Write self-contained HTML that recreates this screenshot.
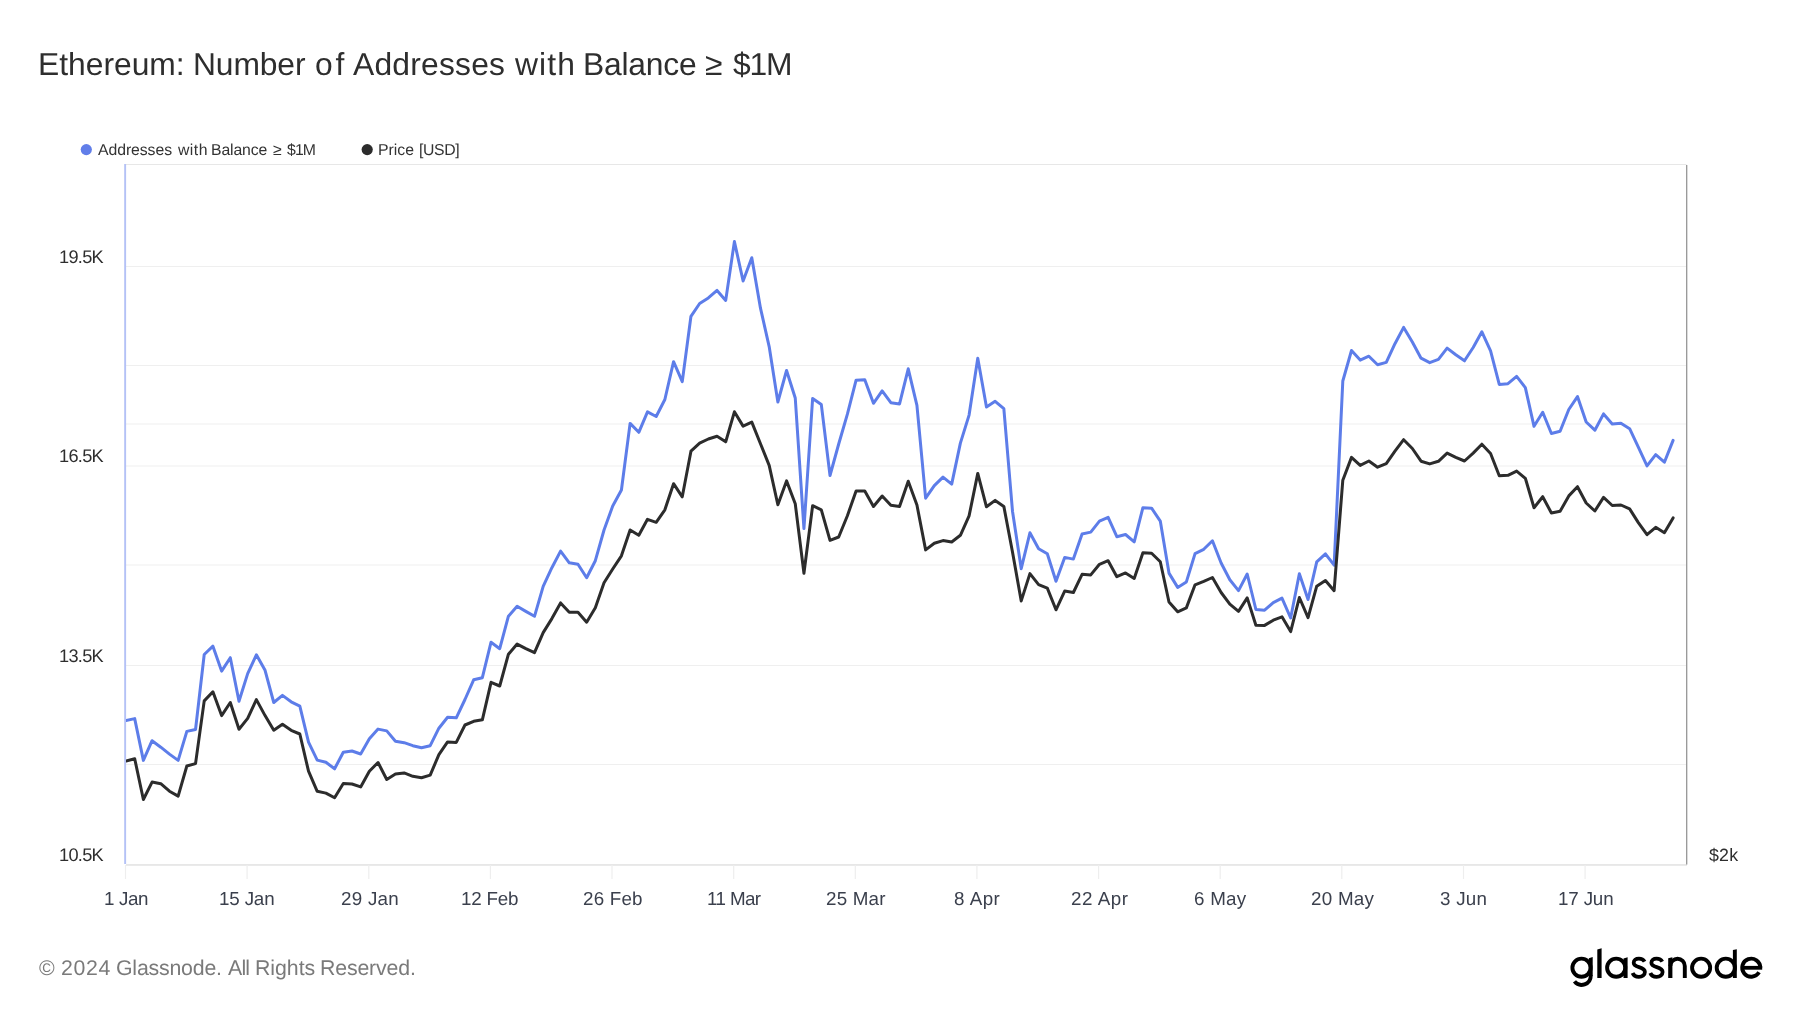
<!DOCTYPE html>
<html><head><meta charset="utf-8"><style>
html,body{margin:0;padding:0;background:#fff;}
body{width:1800px;height:1013px;position:relative;overflow:hidden;font-family:"Liberation Sans",sans-serif;}
.t{position:absolute;white-space:nowrap;line-height:1;will-change:transform;text-rendering:geometricPrecision;}
</style></head><body>
<svg width="1800" height="1013" viewBox="0 0 1800 1013" style="position:absolute;left:0;top:0">
<rect x="125.5" y="164" width="1561" height="1" fill="#e7e7e7"/>
<rect x="126" y="266.0" width="1560" height="1" fill="#efefef"/>
<rect x="126" y="365.0" width="1560" height="1" fill="#efefef"/>
<rect x="126" y="423.5" width="1560" height="1" fill="#efefef"/>
<rect x="126" y="465.5" width="1560" height="1" fill="#efefef"/>
<rect x="126" y="564.5" width="1560" height="1" fill="#efefef"/>
<rect x="126" y="665.0" width="1560" height="1" fill="#efefef"/>
<rect x="126" y="764.0" width="1560" height="1" fill="#efefef"/>
<rect x="126" y="864.35" width="1561" height="1.2" fill="#dadada"/>
<rect x="124.9" y="865" width="1.2" height="14" fill="#eeeeee"/>
<rect x="246.5" y="865" width="1.2" height="14" fill="#eeeeee"/>
<rect x="368.2" y="865" width="1.2" height="14" fill="#eeeeee"/>
<rect x="489.8" y="865" width="1.2" height="14" fill="#eeeeee"/>
<rect x="611.4" y="865" width="1.2" height="14" fill="#eeeeee"/>
<rect x="733.1" y="865" width="1.2" height="14" fill="#eeeeee"/>
<rect x="854.7" y="865" width="1.2" height="14" fill="#eeeeee"/>
<rect x="976.3" y="865" width="1.2" height="14" fill="#eeeeee"/>
<rect x="1098.0" y="865" width="1.2" height="14" fill="#eeeeee"/>
<rect x="1219.6" y="865" width="1.2" height="14" fill="#eeeeee"/>
<rect x="1341.2" y="865" width="1.2" height="14" fill="#eeeeee"/>
<rect x="1462.9" y="865" width="1.2" height="14" fill="#eeeeee"/>
<rect x="1584.5" y="865" width="1.2" height="14" fill="#eeeeee"/>
<rect x="124.2" y="164" width="1.9" height="700" fill="#b4c1f6"/>
<rect x="1686" y="165" width="1.1" height="699.5" fill="#9a9a9a"/>
<rect x="1687.1" y="165" width="0.7" height="699.5" fill="#d0d0d0"/>
<defs><clipPath id="pc"><rect x="126" y="150" width="1560" height="714"/></clipPath></defs>
<polyline clip-path="url(#pc)" fill="none" stroke="#5d7de9" stroke-width="3" stroke-linejoin="round" stroke-linecap="round" points="126.00,720.6 134.69,718.6 143.38,760.4 152.07,740.7 160.77,747.2 169.46,754.1 178.15,760.4 186.84,731.4 195.53,729.5 204.22,654.5 212.91,646.2 221.61,671.1 230.30,657.7 238.99,701.3 247.68,673.6 256.37,654.8 265.06,670.3 273.76,702.5 282.45,695.4 291.14,701.8 299.83,706.2 308.52,742.1 317.21,760.1 325.90,762.3 334.60,768.8 343.29,752.2 351.98,751.0 360.67,754.0 369.36,738.8 378.05,729.1 386.75,730.9 395.44,741.2 404.13,742.7 412.82,745.7 421.51,747.8 430.20,745.7 438.89,728.2 447.59,717.3 456.28,717.8 464.97,699.5 473.66,679.8 482.35,677.7 491.04,642.2 499.73,648.7 508.43,616.2 517.12,606.3 525.81,611.4 534.50,616.3 543.19,586.3 551.88,567.7 560.58,551.1 569.27,562.8 577.96,564.2 586.65,577.7 595.34,560.7 604.03,530.0 612.72,506.0 621.42,490.0 630.11,423.4 638.80,432.3 647.49,411.9 656.18,416.5 664.87,399.5 673.56,361.7 682.26,381.6 690.95,316.3 699.64,303.5 708.33,297.9 717.02,290.4 725.71,300.4 734.40,241.6 743.10,281.0 751.79,257.7 760.48,308.2 769.17,346.6 777.86,402.0 786.55,370.5 795.25,398.0 803.94,528.6 812.63,398.5 821.32,404.6 830.01,475.5 838.70,444.0 847.39,414.2 856.09,380.2 864.78,379.7 873.47,403.3 882.16,390.9 890.85,402.7 899.54,403.9 908.24,368.8 916.93,405.4 925.62,498.2 934.31,485.6 943.00,477.1 951.69,484.1 960.38,443.1 969.08,415.1 977.77,358.2 986.46,407.0 995.15,401.3 1003.84,408.7 1012.53,511.5 1021.22,568.7 1029.92,532.8 1038.61,548.7 1047.30,553.8 1055.99,581.2 1064.68,557.4 1073.37,559.1 1082.07,534.0 1090.76,532.1 1099.45,521.1 1108.14,517.3 1116.83,536.7 1125.52,534.5 1134.21,541.8 1142.91,507.7 1151.60,508.2 1160.29,521.1 1168.98,573.1 1177.67,587.4 1186.36,581.9 1195.05,553.6 1203.75,549.3 1212.44,540.8 1221.13,563.0 1229.82,579.7 1238.51,590.6 1247.20,574.0 1255.89,609.5 1264.59,610.2 1273.28,602.6 1281.97,598.1 1290.66,618.0 1299.35,573.7 1308.04,599.5 1316.74,561.8 1325.43,553.8 1334.12,565.2 1342.81,381.0 1351.50,350.5 1360.19,360.1 1368.88,356.2 1377.58,364.7 1386.27,362.4 1394.96,343.7 1403.65,327.4 1412.34,342.0 1421.03,358.2 1429.72,362.7 1438.42,359.4 1447.11,348.1 1455.80,354.8 1464.49,360.8 1473.18,347.5 1481.87,331.8 1490.57,350.9 1499.26,384.4 1507.95,383.7 1516.64,376.4 1525.33,387.7 1534.02,426.3 1542.71,412.3 1551.41,433.5 1560.10,431.3 1568.79,409.5 1577.48,396.6 1586.17,422.0 1594.86,430.2 1603.55,413.9 1612.25,424.0 1620.94,423.3 1629.63,428.7 1638.32,447.1 1647.01,465.9 1655.70,454.7 1664.40,462.2 1673.09,440.4"/>
<polyline clip-path="url(#pc)" fill="none" stroke="#2c2c2c" stroke-width="3" stroke-linejoin="round" stroke-linecap="round" points="126.00,761.0 134.69,758.7 143.38,799.5 152.07,782.1 160.77,783.7 169.46,791.2 178.15,796.1 186.84,766.0 195.53,763.6 204.22,700.9 212.91,691.8 221.61,715.6 230.30,702.5 238.99,729.3 247.68,718.4 256.37,699.6 265.06,715.6 273.76,730.3 282.45,724.3 291.14,730.3 299.83,734.0 308.52,771.2 317.21,791.3 325.90,793.1 334.60,797.8 343.29,783.4 351.98,784.0 360.67,786.9 369.36,771.2 378.05,762.5 386.75,779.5 395.44,774.1 404.13,772.9 412.82,776.3 421.51,777.7 430.20,775.1 438.89,754.6 447.59,741.9 456.28,742.4 464.97,725.0 473.66,721.3 482.35,719.8 491.04,682.3 499.73,686.0 508.43,654.2 517.12,644.1 525.81,648.7 534.50,652.7 543.19,632.6 551.88,618.6 560.58,602.9 569.27,612.3 577.96,612.3 586.65,622.2 595.34,607.7 604.03,582.8 612.72,569.0 621.42,555.8 630.11,530.0 638.80,535.3 647.49,519.3 656.18,522.3 664.87,509.8 673.56,483.7 682.26,496.8 690.95,451.2 699.64,443.2 708.33,439.0 717.02,436.3 725.71,441.8 734.40,411.8 743.10,426.1 751.79,422.1 760.48,443.8 769.17,465.4 777.86,504.8 786.55,480.9 795.25,503.8 803.94,573.2 812.63,505.7 821.32,509.8 830.01,540.4 838.70,537.0 847.39,515.7 856.09,491.1 864.78,491.1 873.47,506.5 882.16,496.0 890.85,505.3 899.54,506.5 908.24,481.2 916.93,505.0 925.62,549.9 934.31,543.3 943.00,540.6 951.69,542.0 960.38,535.3 969.08,515.9 977.77,473.4 986.46,506.8 995.15,500.4 1003.84,506.4 1012.53,552.2 1021.22,600.9 1029.92,573.6 1038.61,584.6 1047.30,588.1 1055.99,609.8 1064.68,591.1 1073.37,592.5 1082.07,574.3 1090.76,574.9 1099.45,564.3 1108.14,560.7 1116.83,576.7 1125.52,572.9 1134.21,578.4 1142.91,552.8 1151.60,553.3 1160.29,561.8 1168.98,602.0 1177.67,611.8 1186.36,607.9 1195.05,584.8 1203.75,581.4 1212.44,577.5 1221.13,592.5 1229.82,604.1 1238.51,611.4 1247.20,597.9 1255.89,625.3 1264.59,625.4 1273.28,620.2 1281.97,616.8 1290.66,631.6 1299.35,597.5 1308.04,617.6 1316.74,586.2 1325.43,580.5 1334.12,590.7 1342.81,480.2 1351.50,457.4 1360.19,465.4 1368.88,461.0 1377.58,467.2 1386.27,463.6 1394.96,451.2 1403.65,439.7 1412.34,448.5 1421.03,461.2 1429.72,463.9 1438.42,461.3 1447.11,453.1 1455.80,457.4 1464.49,461.0 1473.18,453.1 1481.87,444.2 1490.57,453.5 1499.26,475.7 1507.95,475.3 1516.64,471.1 1525.33,478.3 1534.02,507.7 1542.71,496.7 1551.41,513.0 1560.10,511.3 1568.79,495.9 1577.48,486.7 1586.17,503.0 1594.86,511.0 1603.55,497.4 1612.25,505.5 1620.94,505.0 1629.63,508.9 1638.32,522.6 1647.01,534.7 1655.70,527.3 1664.40,532.7 1673.09,517.9"/>
<circle cx="86.3" cy="149.6" r="5.6" fill="#617ee9"/>
<circle cx="367.2" cy="149.6" r="5.6" fill="#2c2c2c"/>
</svg>
<div class="t" id="y19_5K" style="left:59.00px;top:247.99px;font-size:18.2px;color:#2e2e2e;letter-spacing:-0.700px;">19.5K</div>
<div class="t" id="y16_5K" style="left:59.00px;top:447.39px;font-size:18.2px;color:#2e2e2e;letter-spacing:-0.700px;">16.5K</div>
<div class="t" id="y13_5K" style="left:59.00px;top:647.39px;font-size:18.2px;color:#2e2e2e;letter-spacing:-0.700px;">13.5K</div>
<div class="t" id="y10_5K" style="left:59.00px;top:846.49px;font-size:18.2px;color:#2e2e2e;letter-spacing:-0.700px;">10.5K</div>
<div class="t" id="p2k" style="left:1709.00px;top:846.63px;font-size:17.8px;color:#2e2e2e;letter-spacing:0.200px;">$2k</div>
<div class="t" id="x1_Jan" style="left:103.70px;top:889.89px;font-size:18.8px;color:#3b404d;letter-spacing:-0.350px;">1 Jan</div>
<div class="t" id="x15_Jan" style="left:219.13px;top:889.89px;font-size:18.8px;color:#3b404d;letter-spacing:-0.160px;">15 Jan</div>
<div class="t" id="x29_Jan" style="left:340.76px;top:889.89px;font-size:18.8px;color:#3b404d;letter-spacing:0.280px;">29 Jan</div>
<div class="t" id="x12_Feb" style="left:461.40px;top:889.89px;font-size:18.8px;color:#3b404d;letter-spacing:-0.200px;">12 Feb</div>
<div class="t" id="x26_Feb" style="left:583.03px;top:889.89px;font-size:18.8px;color:#3b404d;letter-spacing:0.200px;">26 Feb</div>
<div class="t" id="x11_Mar" style="left:706.66px;top:889.89px;font-size:18.8px;color:#3b404d;letter-spacing:-0.600px;">11 Mar</div>
<div class="t" id="x25_Mar" style="left:826.29px;top:889.89px;font-size:18.8px;color:#3b404d;letter-spacing:0.200px;">25 Mar</div>
<div class="t" id="x8_Apr" style="left:953.92px;top:889.89px;font-size:18.8px;color:#3b404d;letter-spacing:0.500px;">8 Apr</div>
<div class="t" id="x22_Apr" style="left:1070.96px;top:889.89px;font-size:18.8px;color:#3b404d;letter-spacing:0.520px;">22 Apr</div>
<div class="t" id="x6_May" style="left:1194.19px;top:889.89px;font-size:18.8px;color:#3b404d;letter-spacing:0.250px;">6 May</div>
<div class="t" id="x20_May" style="left:1310.62px;top:889.89px;font-size:18.8px;color:#3b404d;letter-spacing:0.280px;">20 May</div>
<div class="t" id="x3_Jun" style="left:1440.25px;top:889.89px;font-size:18.8px;color:#3b404d;letter-spacing:0.250px;">3 Jun</div>
<div class="t" id="x17_Jun" style="left:1558.28px;top:889.89px;font-size:18.8px;color:#3b404d;letter-spacing:-0.160px;">17 Jun</div>
<div class="t" id="title_0" style="left:38.00px;top:48.88px;font-size:31.8px;color:#2e2e2e;letter-spacing:0.000px;">Ethereum:</div>
<div class="t" id="title_1" style="left:192.50px;top:48.88px;font-size:31.8px;color:#2e2e2e;letter-spacing:-0.120px;">Number</div>
<div class="t" id="title_2" style="left:314.50px;top:48.88px;font-size:31.8px;color:#2e2e2e;letter-spacing:2.800px;">of</div>
<div class="t" id="title_3" style="left:353.00px;top:48.88px;font-size:31.8px;color:#2e2e2e;letter-spacing:0.223px;">Addresses</div>
<div class="t" id="title_4" style="left:515.00px;top:48.88px;font-size:31.8px;color:#2e2e2e;letter-spacing:1.132px;">with</div>
<div class="t" id="title_5" style="left:582.50px;top:48.88px;font-size:31.8px;color:#2e2e2e;letter-spacing:-0.201px;">Balance</div>
<div class="t" id="title_6" style="left:705.00px;top:48.88px;font-size:31.8px;color:#2e2e2e;letter-spacing:0.000px;">≥</div>
<div class="t" id="title_7" style="left:733.00px;top:48.88px;font-size:31.8px;color:#2e2e2e;letter-spacing:-1.200px;">$1M</div>
<div class="t" id="leg1_0" style="left:98.00px;top:143.43px;font-size:15.8px;color:#333333;letter-spacing:-0.073px;">Addresses</div>
<div class="t" id="leg1_1" style="left:178.00px;top:143.43px;font-size:15.8px;color:#333333;letter-spacing:0.466px;">with</div>
<div class="t" id="leg1_2" style="left:210.50px;top:143.43px;font-size:15.8px;color:#333333;letter-spacing:-0.134px;">Balance</div>
<div class="t" id="leg1_3" style="left:273.00px;top:143.43px;font-size:15.8px;color:#333333;letter-spacing:0.000px;">≥</div>
<div class="t" id="leg1_4" style="left:286.50px;top:143.43px;font-size:15.8px;color:#333333;letter-spacing:-0.900px;">$1M</div>
<div class="t" id="leg2_0" style="left:378.00px;top:143.43px;font-size:15.8px;color:#333333;letter-spacing:0.000px;">Price</div>
<div class="t" id="leg2_1" style="left:419.00px;top:143.43px;font-size:15.8px;color:#333333;letter-spacing:-0.350px;">[USD]</div>
<div class="t" id="copy_0" style="left:38.50px;top:957.57px;font-size:21.3px;color:#7a7a7a;letter-spacing:0.000px;">©</div>
<div class="t" id="copy_1" style="left:61.00px;top:957.57px;font-size:21.3px;color:#7a7a7a;letter-spacing:0.667px;">2024</div>
<div class="t" id="copy_2" style="left:116.00px;top:957.57px;font-size:21.3px;color:#7a7a7a;letter-spacing:-0.199px;">Glassnode.</div>
<div class="t" id="copy_3" style="left:228.00px;top:957.57px;font-size:21.3px;color:#7a7a7a;letter-spacing:-0.800px;">All</div>
<div class="t" id="copy_4" style="left:254.50px;top:957.57px;font-size:21.3px;color:#7a7a7a;letter-spacing:-0.040px;">Rights</div>
<div class="t" id="copy_5" style="left:319.50px;top:957.57px;font-size:21.3px;color:#7a7a7a;letter-spacing:-0.150px;">Reserved.</div>
<svg width="1800" height="1013" viewBox="0 0 1800 1013" style="position:absolute;left:0;top:0"><circle cx="1581.5" cy="967.7" r="9.1" fill="none" stroke="#000" stroke-width="3.9"/><polygon fill="#000" points="1588.8,958.3 1592.7,957.1 1592.7,975.8 1588.8,975.8"/><path d="M1590.75 975 L1590.75 975.8 A9.1 9.1 0 0 1 1574.48 981.40" fill="none" stroke="#000" stroke-width="3.9" stroke-linecap="butt"/><polygon fill="#000" points="1597.3,949.4 1601.6,948.2 1601.6,977.9 1597.3,977.9"/><circle cx="1616.2" cy="967.7" r="9.1" fill="none" stroke="#000" stroke-width="3.9"/><polygon fill="#000" points="1623.5,958.6 1627.6,957.3 1627.6,977.9 1623.5,977.9"/><path d="M1644.60 961.6 C1643.40 959.5 1641.40 958.7 1638.90 958.7 C1635.80 958.7 1633.70 960.3 1633.70 962.7 C1633.70 965.3 1636.30 966.3 1639.00 967.1 C1642.30 968.0 1644.90 969.0 1644.90 972.1 C1644.90 975.0 1642.30 976.8 1638.90 976.8 C1635.60 976.8 1633.50 975.4 1632.60 973.0" fill="none" stroke="#000" stroke-width="3.8" stroke-linecap="butt"/><path d="M1662.30 961.6 C1661.10 959.5 1659.10 958.7 1656.60 958.7 C1653.50 958.7 1651.40 960.3 1651.40 962.7 C1651.40 965.3 1654.00 966.3 1656.70 967.1 C1660.00 968.0 1662.60 969.0 1662.60 972.1 C1662.60 975.0 1660.00 976.8 1656.60 976.8 C1653.30 976.8 1651.20 975.4 1650.30 973.0" fill="none" stroke="#000" stroke-width="3.8" stroke-linecap="butt"/><polygon fill="#000" points="1668.2,958.2 1672.4,957.2 1672.4,977.9 1668.2,977.9"/><path d="M1670.35 966 A7.2 7.2 0 0 1 1684.8 966 L1684.8 977.9" fill="none" stroke="#000" stroke-width="3.9" stroke-linecap="butt"/><circle cx="1701.1" cy="967.7" r="9.05" fill="none" stroke="#000" stroke-width="3.9"/><circle cx="1725.8" cy="967.7" r="9.1" fill="none" stroke="#000" stroke-width="3.9"/><polygon fill="#000" points="1732.9,950.1 1736.8,949.3 1736.8,977.9 1732.9,977.9"/><path d="M1760.30 967.7 A9.05 9.05 0 1 0 1759.01 972.36" fill="none" stroke="#000" stroke-width="3.9" stroke-linecap="butt"/><path d="M1742.5 967.8 L1762.20 967.8" fill="none" stroke="#000" stroke-width="3.8" stroke-linecap="butt"/></svg>
</body></html>
